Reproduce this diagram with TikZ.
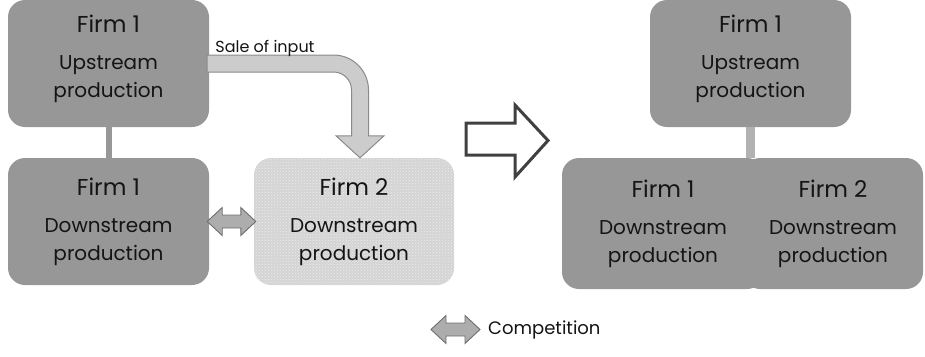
\documentclass[tikz,border=0pt]{standalone}
\usepackage{fontspec}
\setmainfont{Poppins}
\usetikzlibrary{calc,patterns}

\definecolor{boxgray}{HTML}{979797}
\definecolor{rivalgray}{HTML}{D4D4D4}
\definecolor{salegray}{HTML}{CCCCCC}
\definecolor{edgegray}{HTML}{8A8A8A}
\definecolor{mergegray}{HTML}{B2B2B2}
\definecolor{shiftgray}{HTML}{404040}
\definecolor{inkgray}{HTML}{141414}

% Firm name on top, then the stage of production
\newcommand{\firmtext}[3]{{\fontsize{23}{26}\selectfont #1}\\[9pt] #2\\ #3}

% Double-headed arrow from #1 (left) to #2 (right)
\newcommand{\duelarrow}[2]{%
  \draw[compete] (#1) -- ++(15,-14) -- ++(0,7.5) -- ($(#2)+(-15,-6.5)$) -- ++(0,-7.5)
    -- (#2) -- ++(-15,14) -- ++(0,-7.5) -- ($(#1)+(15,6.5)$) -- ++(0,7.5) -- cycle;}

\begin{document}
\begin{tikzpicture}[
    x=1pt, y=-1pt,
    firmbox/.style={rounded corners=17pt, fill=boxgray, text=inkgray, align=center,
                    inner sep=0pt, font=\fontsize{20}{28}\selectfont},
    upbox/.style={firmbox, text depth=15pt},
    rivalbox/.style={firmbox, preaction={fill=rivalgray}, pattern=crosshatch dots,
                     pattern color=white!55!rivalgray},
    chain/.style={line width=6pt, draw=boxgray},
    merger/.style={line width=9pt, draw=mergegray},
    sale/.style={fill=salegray, draw=edgegray, line width=1pt},
    compete/.style={fill=salegray!85!black, draw=edgegray!80!black, line width=0.9pt},
    bigshift/.style={fill=white, draw=shiftgray, line width=3pt, miter limit=20}
]

  % Define variables for better adjustability
  \def\boxW{201}      % width of a single firm box
  \def\boxH{127}      % height of a firm box
  \def\headL{22}      % length of the head of the sale arrow
  \def\shaft{8.5}     % half thickness of the sale arrow

  \useasboundingbox (0,0) rectangle (925,356);

  % Before: separate firms
  \node[upbox, minimum width=\boxW, minimum height=\boxH] (up1) at (108.5,63.5)
    {\firmtext{Firm 1}{Upstream}{production}};
  \node[firmbox, minimum width=\boxW, minimum height=\boxH] (lo1) at (108.5,221.5)
    {\firmtext{Firm 1}{Downstream}{production}};
  \node[rivalbox, minimum width=200, minimum height=\boxH] (f2) at (354,221.5)
    {\firmtext{Firm 2}{Downstream}{production}};

  \draw[chain] (up1) -- (lo1);

  % Sale of input from the upstream firm to the rival
  \coordinate (saleStart) at ([xshift=-2]up1.east);
  \coordinate (saleTip) at ([xshift=6]f2.north);
  \draw[sale] ($(saleStart)+(0,-\shaft)$)
    [rounded corners=35pt] -- ($(saleTip |- saleStart)+(\shaft,-\shaft)$)
    [sharp corners] -- ($(saleTip)+(\shaft,-\headL)$) -- ($(saleTip)+(24,-\headL)$)
    -- (saleTip) -- ($(saleTip)+(-24,-\headL)$) -- ($(saleTip)+(-\shaft,-\headL)$)
    [rounded corners=18pt] -- ($(saleTip |- saleStart)+(-\shaft,\shaft)$)
    [sharp corners] -- ($(saleStart)+(0,\shaft)$) -- cycle;
  \node[anchor=base west, inner sep=0pt, text=inkgray, font=\fontsize{16}{18}\selectfont]
    (saleLabel) at ($(saleStart)+(8,-11)$) {Sale of input};

  % Competition between the two downstream firms
  \coordinate (duelL) at ([xshift=-2]lo1.east);
  \coordinate (duelR) at ([xshift=2]f2.west);
  \duelarrow{duelL}{duelR}

  % Change of structure
  \draw[bigshift] (466,123) -- (515,123) -- (515,105) -- (548,140.5) -- (515,177)
    -- (515,155) -- (466,155) -- cycle;

  % After: integrated firm
  \node[upbox, minimum width=\boxW, minimum height=\boxH] (ru) at (750.5,63.5)
    {\firmtext{Firm 1}{Upstream}{production}};
  \node[firmbox, minimum width=202, minimum height=131] (rd1) at (663,223.5)
    {\firmtext{Firm 1}{Downstream}{production}};
  \node[firmbox, minimum width=180, minimum height=131] (rd2) at (833,223.5)
    {\firmtext{Firm 2}{Downstream}{production}};

  \draw[merger] (ru.south) -- (ru.south |- rd1.north);

  % Legend
  \coordinate (keyL) at (431,329.5);
  \coordinate (keyR) at (480,329.5);
  \duelarrow{keyL}{keyR}
  \node[anchor=west, inner sep=0pt, text=inkgray, font=\fontsize{18}{20}\selectfont]
    (keyText) at ([xshift=8]keyR) {Competition};

\end{tikzpicture}
\end{document}
